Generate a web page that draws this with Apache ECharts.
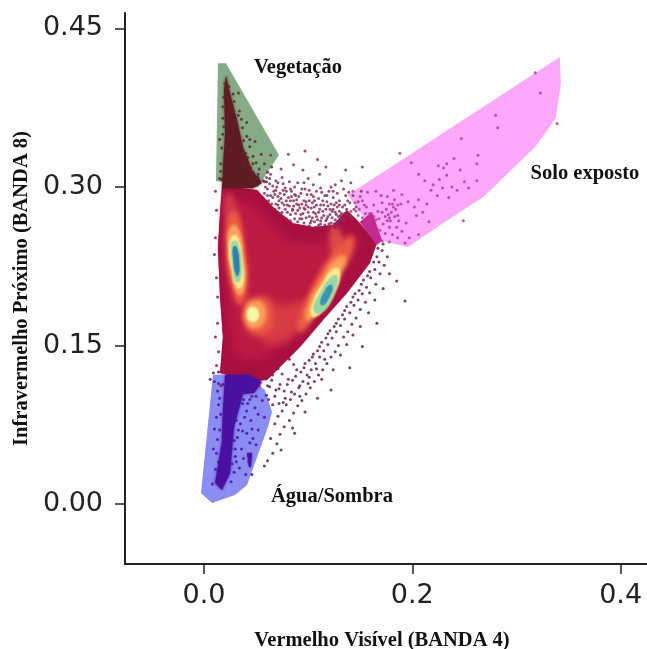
<!DOCTYPE html>
<html><head><meta charset="utf-8">
<style>html,body{margin:0;padding:0;background:#fff}#c{width:647px;height:649px}</style>
<script src="https://cdn.jsdelivr.net/npm/echarts@6/dist/echarts.min.js"></script>
</head><body><div id="c"></div>
<script>
const xTicks = [0, 0.2, 0.4];
const yTicks = [0, 0.15, 0.30, 0.45];
const xTitle = 'Vermelho Visível (BANDA 4)';
const yTitle = 'Infravermelho Próximo (BANDA 8)';

// class regions
const vegetacao = [[.0134,.4172],[.0211,.4172],[.0720,.3302],[.0518,.2999],[.0115,.3056]];
const soloExposto = [[.3416,.4229],[.3426,.3983],[.3378,.3652],[.3177,.3377],[.2678,.2904],[.2265,.2639],[.1958,.2431],[.1689,.2497],[.1382,.2923]];
const aguaSombra = [[.0086,.1220],[.0374,.1239],[.0585,.1078],[.0653,.0870],[.0614,.0728],[.0413,.0180],[.0298,.0085],[.0077,.0009],[-.0029,.0104]];
const regionLabels = [['Vegetação',.0902,.4125],['Solo exposto',.3658,.3122],['Água/Sombra',.1229,.0066]];

// dense point clouds, as iso-density outlines
const cloudVeg = [[.0211,.4058],[.0250,.3888],[.0317,.3633],[.0374,.3377],[.0461,.3160],[.0557,.3037],[.0470,.2989],[.0173,.2989],[.0182,.3188],[.0202,.3510],[.0192,.3916]];
const cloudWater = [[.0202,.1220],[.0441,.1220],[.0557,.1154],[.0480,.1050],[.0374,.1040],[.0288,.0728],[.0250,.0293],[.0173,.0132],[.0106,.0199],[.0170,.0580],[.0182,.0889]];
const cloudWater2 = [[.0413,.0482],[.0461,.0482],[.0451,.0350],[.0432,.0350]];
const cloudSoilOverlap = [[.1497,.2668],[.1612,.2762],[.1708,.2497],[.1660,.2450]];
const densityOuter = [[.0173,.3009],[.0509,.2971],[.0662,.2810],[.0854,.2658],[.1046,.2621],[.1238,.2640],[.1372,.2781],[.1468,.2687],[.1660,.2469],[.1593,.2280],[.1372,.1996],[.1142,.1741],[.0921,.1485],[.0605,.1173],[.0489,.1164],[.0154,.1239],[.0182,.1580],[.0154,.1958],[.0134,.2431],[.0154,.2753]];
const densityRed = [[.0250,.2850],[.0442,.2830],[.0634,.2660],[.0826,.2500],[.1114,.2480],[.1354,.2590],[.1480,.2470],[.1320,.2180],[.0922,.1720],[.0586,.1390],[.0320,.1400],[.0250,.1741],[.0230,.2308]];
const glowLower = [[.0557,.1930],[.0778,.1883],[.0998,.1930],[.1000,.1790],[.0860,.1590],[.0730,.1520],[.0557,.1551]];
const glowStreak = [[.1238,.2639],[.1354,.2450],[.1286,.2289],[.1210,.2450]];
const glowUpLeft = [[.0202,.2923],[.0269,.2923],[.0326,.2639],[.0230,.2639]];
const orangeLeft = [[.0232,.2720],[.0315,.2760],[.0395,.2403],[.0415,.2040],[.0346,.1880],[.0255,.2072],[.0210,.2403]];
const orangeMid = [[.0394,.1883],[.0490,.1958],[.0614,.1930],[.0653,.1693],[.0557,.1599],[.0422,.1646]];
const orangeRight = [[.1420,.2540],[.1430,.2400],[.1300,.2170],[.1100,.1860],[.0960,.1640],[.0890,.1660],[.0990,.1950],[.1140,.2240],[.1290,.2430]];
const amberLeft = [[.0250,.2620],[.0325,.2620],[.0385,.2356],[.0392,.2040],[.0326,.1980],[.0255,.2214],[.0228,.2403]];
const amberMid = [[.0405,.1870],[.0470,.1920],[.0570,.1895],[.0580,.1730],[.0470,.1660],[.0395,.1730]];
const amberRight = [[.1360,.2340],[.1310,.2170],[.1200,.1990],[.1055,.1780],[.0985,.1730],[.1005,.1910],[.1130,.2130],[.1250,.2310]];
const yellowLeft = [[.0262,.2530],[.0322,.2530],[.0372,.2289],[.0372,.2070],[.0310,.2050],[.0262,.2233],[.0240,.2384]];
const yellowMid = [[.0425,.1845],[.0480,.1865],[.0525,.1820],[.0515,.1745],[.0461,.1720],[.0415,.1765]];
const yellowRight = [[.1305,.2210],[.1255,.1985],[.1110,.1790],[.1030,.1780],[.1050,.1930],[.1140,.2090],[.1230,.2220]];
const greenLeft = [[.0268,.2480],[.0322,.2480],[.0360,.2270],[.0345,.2110],[.0298,.2110],[.0268,.2280],[.0258,.2403]];
const greenRight = [[.1280,.2160],[.1235,.1960],[.1110,.1800],[.1050,.1850],[.1110,.1990],[.1200,.2130]];
const tealLeft = [[.0280,.2431],[.0315,.2431],[.0342,.2261],[.0330,.2160],[.0305,.2170],[.0280,.2308]];
const tealRight = [[.1235,.2060],[.1205,.1960],[.1145,.1880],[.1115,.1905],[.1155,.2010],[.1200,.2070]];

// scattered pixels
const speckleTop = [[.058,.305],[.064,.312],[.070,.300],[.075,.309],[.079,.296],[.082,.305],[.087,.300],[.091,.291],[.094,.298],[.098,.286],[.103,.293],[.106,.281],[.110,.289],[.114,.277],[.118,.286],[.121,.274],[.125,.283],[.129,.272],[.133,.281],[.136,.292],[.140,.285],[.068,.293],[.072,.287],[.077,.283],[.081,.290],[.085,.278],[.089,.284],[.093,.274],[.097,.279],[.101,.272],[.105,.276],[.109,.269],[.113,.271],[.117,.268],[.121,.279],[.126,.269],[.130,.277],[.134,.268],[.061,.298],[.066,.301],[.073,.294],[.078,.299],[.083,.287],[.088,.292],[.092,.280],[.096,.287],[.100,.281],[.104,.285],[.107,.275],[.111,.279],[.115,.283],[.119,.272],[.123,.277],[.127,.285],[.131,.268],[.135,.275],[.060,.309],[.069,.306],[.076,.303],[.084,.296],[.090,.304],[.099,.293],[.108,.296],[.116,.292],[.124,.290],[.128,.294],[.134,.298],[.139,.295],[.143,.292],[.148,.286],[.151,.296],[.074,.317],[.086,.321],[.095,.316],[.100,.308],[.112,.299],[.120,.296],[.109,.326],[.117,.319],[.126,.302],[.136,.316],[.152,.319],[.064,.330],[.081,.331],[.097,.334],[.111,.312],[.085,.279],[.094,.270],[.103,.268],[.112,.265],[.122,.266],[.080,.276],[.071,.283],[.064,.292],[.073,.275],[.087,.270],[.130,.287],[.144,.279],[.141,.272],[.138,.287],[.146,.281],[.096,.304],[.105,.302],[.122,.300],[.132,.306],[.141,.304]];
const speckleTopDense = [[.062,.287],[.066,.290],[.069,.284],[.072,.280],[.075,.285],[.078,.279],[.080,.283],[.083,.274],[.086,.282],[.088,.275],[.090,.278],[.092,.270],[.095,.275],[.098,.271],[.100,.276],[.102,.266],[.104,.271],[.106,.267],[.108,.272],[.110,.264],[.112,.268],[.115,.273],[.116,.264],[.118,.270],[.120,.265],[.123,.271],[.125,.265],[.127,.274],[.128,.266],[.131,.273],[.133,.270],[.135,.283],[.137,.279],[.138,.274],[.069,.297],[.071,.291],[.074,.289],[.077,.293],[.079,.287],[.082,.282],[.084,.291],[.086,.287],[.089,.288],[.091,.283],[.094,.284],[.096,.280],[.098,.283],[.101,.287],[.103,.280],[.106,.287],[.108,.283],[.110,.276],[.112,.283],[.114,.287],[.117,.279],[.119,.282],[.122,.284],[.124,.279],[.126,.276],[.128,.281],[.130,.283],[.132,.275],[.124,.296],[.118,.292],[.113,.295],[.105,.291],[.101,.297],[.097,.298],[.093,.294],[.087,.293],[.083,.298],[.076,.297],[.071,.304],[.067,.296],[.059,.300],[.063,.303],[.058,.294],[.061,.292],[.065,.284],[.068,.279],[.075,.276],[.079,.270],[.083,.268],[.090,.267],[.096,.266],[.101,.263],[.107,.262],[.113,.262],[.119,.262],[.126,.262],[.131,.262]];
const speckleSoil = [[.141,.277],[.145,.285],[.149,.279],[.152,.287],[.156,.281],[.159,.275],[.163,.283],[.167,.277],[.171,.285],[.175,.279],[.178,.271],[.182,.281],[.186,.273],[.189,.284],[.183,.288],[.177,.274],[.172,.265],[.169,.259],[.174,.256],[.178,.262],[.181,.255],[.185,.262],[.190,.258],[.194,.266],[.186,.252],[.165,.269],[.160,.263],[.155,.275],[.150,.291],[.143,.296],[.157,.295],[.165,.296],[.170,.292],[.176,.291],[.182,.297],[.190,.293],[.196,.286],[.202,.281],[.206,.288],[.210,.276],[.214,.284],[.218,.297],[.224,.292],[.229,.299],[.216,.267],[.206,.255],[.197,.252],[.193,.247],[.204,.273],[.212,.306],[.220,.302],[.226,.307],[.233,.311],[.238,.300],[.243,.297],[.235,.290],[.230,.318],[.225,.320],[.233,.322],[.240,.327],[.246,.316],[.250,.305],[.254,.299],[.262,.322],[.263,.330],[.249,.268],[.262,.306],[.280,.368],[.282,.356],[.318,.408],[.323,.389],[.339,.360],[.247,.346],[.206,.312],[.199,.323],[.188,.332],[.186,.283],[.178,.284],[.171,.249],[.178,.248],[.180,.276],[.183,.272],[.184,.279],[.181,.284],[.179,.268],[.187,.268],[.176,.268],[.174,.272],[.171,.276],[.168,.270],[.163,.272],[.158,.269],[.154,.283],[.148,.273],[.152,.271],[.146,.277],[.160,.256],[.164,.259]];
const speckleLower = [[.171,.240],[.176,.234],[.168,.229],[.173,.226],[.164,.222],[.169,.218],[.160,.214],[.165,.208],[.156,.205],[.152,.199],[.159,.200],[.148,.193],[.155,.191],[.144,.188],[.150,.184],[.140,.181],[.146,.176],[.135,.175],[.142,.170],[.131,.169],[.138,.163],[.127,.163],[.134,.158],[.123,.157],[.129,.150],[.119,.151],[.126,.144],[.115,.145],[.122,.139],[.111,.139],[.118,.133],[.107,.133],[.114,.127],[.103,.127],[.110,.122],[.099,.122],[.106,.116],[.095,.116],[.102,.110],[.091,.110],[.098,.104],[.087,.104],[.094,.098],[.083,.099],[.090,.093],[.079,.094],[.086,.086],[.075,.088],[.082,.079],[.071,.083],[.077,.073],[.068,.076],[.073,.066],[.070,.057],[.064,.062],[.066,.048],[.061,.041],[.058,.036],[.074,.051],[.087,.067],[.092,.112],[.101,.120],[.113,.118],[.124,.127],[.131,.141],[.137,.151],[.143,.160],[.150,.168],[.158,.181],[.164,.193],[.172,.204],[.178,.218],[.185,.211],[.193,.192],[.166,.171],[.152,.149],[.140,.129],[.122,.108],[.109,.100],[.097,.087],[.085,.072],[.076,.096],[.068,.102],[.063,.111],[.072,.109],[.080,.113],[.088,.121],[.096,.129],[.104,.139],[.111,.149],[.119,.161],[.127,.171],[.135,.183],[.143,.196],[.151,.208],[.159,.220],[.166,.234],[.172,.246],[.167,.242],[.163,.229],[.157,.216],[.153,.212],[.149,.202],[.145,.199],[.141,.191],[.137,.187],[.133,.179],[.129,.175],[.125,.168],[.121,.164],[.117,.157],[.113,.153],[.109,.145],[.105,.142],[.101,.136],[.097,.133],[.093,.125],[.089,.127],[.085,.117],[.081,.118],[.077,.107],[.073,.113],[.069,.108],[.065,.117],[.061,.112],[.116,.137],[.108,.128],[.100,.114],[.092,.102],[.084,.106],[.078,.100],[.072,.095],[.066,.094],[.062,.099]];
const speckleVeg = [[.024,.395],[.029,.381],[.034,.372],[.037,.356],[.041,.348],[.044,.338],[.047,.329],[.050,.323],[.053,.317],[.058,.322],[.061,.314],[.055,.331],[.049,.343],[.041,.361],[.036,.341],[.040,.332],[.052,.309],[.063,.308],[.045,.318],[.033,.389],[.015,.345],[.016,.322],[.017,.307],[.018,.376],[.019,.357],[.057,.306],[.048,.305],[.065,.319],[.043,.309],[.039,.322],[.033,.368],[.038,.344],[.042,.328],[.047,.322],[.052,.312],[.060,.305],[.028,.388],[.036,.364],[.044,.345],[.047,.314],[.017,.337],[.018,.350],[.018,.365],[.019,.385],[.020,.398],[.016,.315],[.015,.308]];
const speckleWater = [[.010,.116],[.013,.107],[.014,.094],[.012,.082],[.010,.071],[.013,.061],[.009,.052],[.016,.046],[.031,.087],[.035,.076],[.032,.063],[.036,.052],[.030,.045],[.034,.034],[.027,.038],[.041,.067],[.045,.079],[.049,.091],[.052,.085],[.047,.062],[.052,.070],[.056,.098],[.058,.082],[.060,.103],[.037,.095],[.041,.088],[.044,.099],[.050,.102],[.028,.073],[.026,.052],[.028,.102],[.018,.113],[.006,.118],[.009,.124],[.014,.125],[.022,.025],[.026,.021],[.011,.033],[.008,.019],[.018,.020],[.038,.043],[.040,.028],[.046,.028],[.043,.040],[.050,.056],[.031,.094],[.034,.098],[.038,.099],[.031,.079],[.033,.070],[.029,.060],[.030,.052],[.031,.040],[.029,.030],[.014,.040],[.012,.048],[.015,.070],[.016,.085],[.015,.100],[.014,.114],[.046,.102],[.042,.095],[.039,.082],[.037,.069],[.046,.071],[.044,.058]];
const speckleEdge = [[.011,.296],[.012,.278],[.011,.252],[.010,.236],[.012,.214],[.013,.196],[.013,.171],[.011,.158],[.014,.144],[.012,.131],[.016,.112],[.058,.120],[.053,.112],[.066,.122],[.071,.128],[.075,.123],[.082,.137],[.086,.132]];

const chart = echarts.init(document.getElementById('c'));
const OFF = 1500;
const polyRender = (params, api) => {
  const d = polys[params.dataIndex];
  const soft = !!d.soft;
  return {
    type: 'polygon',
    shape: { points: d.pts.map(p => { const c = api.coord(p); return soft ? [c[0] - OFF, c[1]] : c; }), smooth: d.smooth || 0 },
    style: soft ? { fill: d.color, shadowBlur: d.soft, shadowColor: d.color, shadowOffsetX: OFF }
                : { fill: d.color, shadowBlur: d.blur || 0, shadowColor: d.color }
  };
};
const polys = [
  { pts: soloExposto, color: '#fda8fb' },
  { pts: vegetacao, color: '#86ab86' },
  { pts: aguaSombra, color: '#8b8df2' },
  { pts: densityOuter, color: '#a81040', blur: 1 },
  { pts: cloudVeg, color: '#5e1c22', blur: 3 },
  { pts: cloudWater, color: '#4a10a0', blur: 3 },
  { pts: cloudWater2, color: '#4a10a0', blur: 2 },
  { pts: cloudSoilOverlap, color: '#c32a90', blur: 1 },
  { pts: densityRed, color: '#bd1a44', soft: 8, smooth: .3 },
  { pts: glowUpLeft, color: '#d63b4c', soft: 6, smooth: .5 },
  { pts: glowLower, color: '#d83c45', soft: 8, smooth: .5 },
  { pts: glowStreak, color: '#dc4a48', soft: 5, smooth: .5 },
  { pts: orangeLeft, color: '#ec5b42', soft: 5, smooth: .5 },
  { pts: orangeMid, color: '#ec5b42', soft: 6, smooth: .5 },
  { pts: orangeRight, color: '#ec5b42', soft: 5, smooth: .5 },
  { pts: amberLeft, color: '#fca35c', soft: 3, smooth: .5 },
  { pts: amberMid, color: '#fca35c', soft: 4, smooth: .5 },
  { pts: amberRight, color: '#fca35c', soft: 4, smooth: .5 },
  { pts: yellowLeft, color: '#fee98f', soft: 2, smooth: .5 },
  { pts: yellowMid, color: '#f7f6a8', soft: 2, smooth: .5 },
  { pts: yellowRight, color: '#fee98f', soft: 2, smooth: .5 },
  { pts: greenLeft, color: '#9ad7a4', soft: 1.5, smooth: .5 },
  { pts: greenRight, color: '#9ad7a4', soft: 1.5, smooth: .5 },
  { pts: tealLeft, color: '#2f7fb0', soft: 1, smooth: .5 },
  { pts: tealRight, color: '#3c93ad', soft: 1, smooth: .5 }
];
const dots = (data, color, size) => ({
  type: 'scatter', data, symbolSize: size || 3, silent: true, z: 5,
  itemStyle: { color, opacity: .85 }
});
const axisText = { color: '#222', fontFamily: 'DejaVu Sans', fontSize: 27 };
const titleText = { color: '#111', fontFamily: 'Liberation Serif', fontWeight: 'bold', fontSize: 20.5 };
chart.setOption({
  animation: false,
  backgroundColor: '#fff',
  grid: { left: 125, top: 13, width: 522, height: 551, containLabel: false, outerBoundsMode: 'none' },
  xAxis: {
    type: 'value', min: -.07585, max: .42535,
    name: xTitle, nameLocation: 'middle', nameGap: 66, nameTextStyle: { ...titleText, padding: [0, 8, 0, 0] },
    splitLine: { show: false },
    axisLine: { onZero: false, lineStyle: { color: '#222', width: 2 } },
    axisTick: { length: 10, lineStyle: { color: '#222', width: 1.5 }, customValues: xTicks },
    axisLabel: { ...axisText, margin: 18, customValues: xTicks, formatter: v => v.toFixed(1) }
  },
  yAxis: {
    type: 'value', min: -.05678, max: .46465,
    name: yTitle, nameLocation: 'middle', nameGap: 93, nameRotate: 90, nameTextStyle: titleText,
    splitLine: { show: false },
    axisLine: { onZero: false, lineStyle: { color: '#222', width: 2 } },
    axisTick: { length: 10, lineStyle: { color: '#222', width: 1.5 }, customValues: yTicks },
    axisLabel: { ...axisText, margin: 22, padding: [4, 0, 0, 0], customValues: yTicks, formatter: v => v.toFixed(2) }
  },
  series: [
    { type: 'custom', renderItem: polyRender, data: polys.map((_, i) => [i]), silent: true, z: 2, encode: { x: [], y: [] } },
    dots(speckleTop, '#84325f'),
    dots(speckleTopDense, '#8c2c5e'),
    dots(speckleSoil, '#b53a9f'),
    dots(speckleLower, '#5f2148'),
    dots(speckleVeg, '#5a2a2c'),
    dots(speckleWater, '#4a10a0'),
    dots(speckleEdge, '#8e1a4d'),
    {
      type: 'custom', z: 6, silent: true, data: regionLabels,
      encode: { x: 1, y: 2 },
      renderItem: (params, api) => {
        const r = regionLabels[params.dataIndex];
        const p = api.coord([r[1], r[2]]);
        return { type: 'text', style: { text: r[0], x: p[0], y: p[1], align: 'center', verticalAlign: 'middle',
          fill: '#111', font: 'bold 20.5px "Liberation Serif"' } };
      }
    }
  ]
});
</script></body></html>
